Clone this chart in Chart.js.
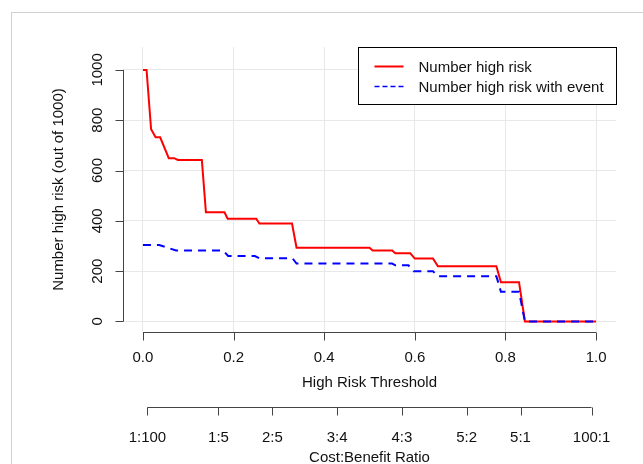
<!DOCTYPE html>
<html>
<head>
<meta charset="utf-8">
<script src="https://cdn.jsdelivr.net/npm/chart.js@4"></script>
<style>
  html, body { margin: 0; padding: 0; background: #fff; }
  #wrap { position: relative; width: 643px; height: 464px; overflow: hidden; }
  #frame { position: absolute; left: 11px; top: 12px; right: 0; bottom: 0; border-left: 1px solid #d0d0d0; border-top: 1px solid #d0d0d0; }
  canvas { position: absolute; left: 0; top: 0; }
</style>
</head>
<body>
<div id="wrap">
  <div id="frame"></div>
  <canvas id="chart" width="643" height="464"></canvas>
</div>
<script>
// Number high risk (out of 1000) against high risk threshold
const thresholdHigh = [0, 0.008, 0.018, 0.028, 0.038, 0.057, 0.069, 0.077, 0.13, 0.139, 0.18, 0.187, 0.25, 0.257, 0.329, 0.339, 0.50, 0.507, 0.55, 0.557, 0.59, 0.60, 0.64, 0.651, 0.78, 0.79, 0.83, 0.843, 1.0];
const numberHigh = [1000, 1000, 764, 732, 732, 649, 649, 642, 642, 434, 434, 408, 408, 389, 389, 293, 293, 282, 282, 271, 271, 250, 250, 219, 219, 156, 156, 0, 0];

// Number high risk with event
const thresholdEvent = [0, 0.036, 0.073, 0.177, 0.188, 0.247, 0.257, 0.33, 0.339, 0.55, 0.557, 0.586, 0.597, 0.64, 0.65, 0.78, 0.79, 0.83, 0.843, 1.0];
const numberEvent = [304, 304, 282, 282, 260, 260, 251, 251, 230, 230, 223, 223, 200, 200, 180, 180, 118, 118, 0, 0];

// Axis ticks
const xTicks = [0, 0.2, 0.4, 0.6, 0.8, 1.0];
const xTickLabels = ['0.0', '0.2', '0.4', '0.6', '0.8', '1.0'];
const yTicks = [0, 200, 400, 600, 800, 1000];
const costBenefitLabels = ['1:100', '1:5', '2:5', '3:4', '4:3', '5:2', '5:1', '100:1'];
const costBenefitAt = [0.0099, 0.1667, 0.2857, 0.4286, 0.5714, 0.7143, 0.8333, 0.9901];

const FONT = '15px "Liberation Sans", Arial, sans-serif';
const AXIS_COLOR = '#444';
const TEXT_COLOR = '#111';

// R-style axes, titles and legend drawn on top of the chart
const rAxes = {
    id: 'rAxes',
    afterDraw(chart) {
        const ctx = chart.ctx;
        const xs = chart.scales.x, ys = chart.scales.y;
        const area = chart.chartArea;
        ctx.save();
        ctx.strokeStyle = AXIS_COLOR;
        ctx.lineWidth = 1;
        ctx.fillStyle = TEXT_COLOR;
        ctx.font = FONT;

        // left axis
        const ax = Math.round(area.left) + 0.5;
        ctx.beginPath();
        ctx.moveTo(ax, ys.getPixelForValue(0));
        ctx.lineTo(ax, ys.getPixelForValue(1000));
        yTicks.forEach(v => {
            const py = Math.round(ys.getPixelForValue(v)) + 0.5;
            ctx.moveTo(ax - 8, py);
            ctx.lineTo(ax, py);
        });
        ctx.stroke();
        ctx.textAlign = 'center';
        ctx.textBaseline = 'middle';
        yTicks.forEach(v => {
            ctx.save();
            ctx.translate(ax - 26, ys.getPixelForValue(v));
            ctx.rotate(-Math.PI / 2);
            ctx.fillText(String(v), 0, 0);
            ctx.restore();
        });
        ctx.save();
        ctx.translate(59, (area.top + area.bottom) / 2);
        ctx.rotate(-Math.PI / 2);
        ctx.fillText('Number high risk (out of 1000)', 0, 0);
        ctx.restore();

        // bottom axis: threshold
        const by = Math.round(area.bottom) + 0.5;
        ctx.beginPath();
        ctx.moveTo(xs.getPixelForValue(0), by);
        ctx.lineTo(xs.getPixelForValue(1), by);
        xTicks.forEach(v => {
            const px = Math.round(xs.getPixelForValue(v)) + 0.5;
            ctx.moveTo(px, by);
            ctx.lineTo(px, by + 8);
        });
        ctx.stroke();
        xTicks.forEach((v, i) => ctx.fillText(xTickLabels[i], xs.getPixelForValue(v), by + 25));
        ctx.fillText('High Risk Threshold', (xs.getPixelForValue(0) + xs.getPixelForValue(1)) / 2, by + 50);

        // second axis: cost:benefit ratio
        const cy = by + 75;
        ctx.beginPath();
        ctx.moveTo(xs.getPixelForValue(costBenefitAt[0]), cy);
        ctx.lineTo(xs.getPixelForValue(costBenefitAt[costBenefitAt.length - 1]), cy);
        costBenefitAt.forEach(v => {
            const px = Math.round(xs.getPixelForValue(v)) + 0.5;
            ctx.moveTo(px, cy);
            ctx.lineTo(px, cy + 8);
        });
        ctx.stroke();
        costBenefitAt.forEach((v, i) => ctx.fillText(costBenefitLabels[i], xs.getPixelForValue(v), cy + 30));
        ctx.fillText('Cost:Benefit Ratio', (xs.getPixelForValue(0) + xs.getPixelForValue(1)) / 2, cy + 50);

        // legend, top right of the plot region
        const lw = 258, lh = 57;
        const lx = Math.round(area.right) - lw + 0.5, ly = Math.round(area.top) + 0.5;
        ctx.fillStyle = '#fff';
        ctx.fillRect(lx, ly, lw, lh);
        ctx.strokeStyle = '#000';
        ctx.strokeRect(lx, ly, lw, lh);
        chart.data.datasets.forEach((ds, i) => {
            const rowY = ly + 19 + i * 20;
            ctx.strokeStyle = ds.borderColor;
            ctx.lineWidth = i === 0 ? 2 : 1.5;
            ctx.setLineDash(i === 0 ? [] : [5, 3]);
            ctx.beginPath();
            ctx.moveTo(lx + 16, rowY);
            ctx.lineTo(lx + 45, rowY);
            ctx.stroke();
            ctx.setLineDash([]);
            ctx.fillStyle = TEXT_COLOR;
            ctx.textAlign = 'left';
            ctx.fillText(ds.label, lx + 60, rowY + 1);
        });
        ctx.restore();
    }
};

new Chart(document.getElementById('chart'), {
    type: 'line',
    data: {
        datasets: [
            {
                label: 'Number high risk',
                data: thresholdHigh.map((t, i) => ({ x: t, y: numberHigh[i] })),
                borderColor: '#ff0000',
                borderWidth: 2,
                pointRadius: 0,
                tension: 0,
                order: 1
            },
            {
                label: 'Number high risk with event',
                data: thresholdEvent.map((t, i) => ({ x: t, y: numberEvent[i] })),
                borderColor: '#0000ff',
                borderWidth: 2,
                borderDash: [8, 6],
                pointRadius: 0,
                tension: 0,
                order: 0
            }
        ]
    },
    options: {
        responsive: false,
        animation: false,
        layout: { padding: { left: 123, right: 27, top: 47, bottom: 132 } },
        plugins: { legend: { display: false }, tooltip: { enabled: false } },
        scales: {
            x: {
                type: 'linear',
                min: -0.044,
                max: 1.044,
                afterBuildTicks: s => { s.ticks = xTicks.map(v => ({ value: v })); },
                ticks: { display: false },
                grid: { color: '#e8e8e8', drawTicks: false },
                border: { display: false }
            },
            y: {
                type: 'linear',
                min: -42,
                max: 1091,
                afterBuildTicks: s => { s.ticks = yTicks.map(v => ({ value: v })); },
                ticks: { display: false },
                grid: { color: '#e8e8e8', drawTicks: false },
                border: { display: false }
            }
        }
    },
    plugins: [rAxes]
});
</script>
</body>
</html>
